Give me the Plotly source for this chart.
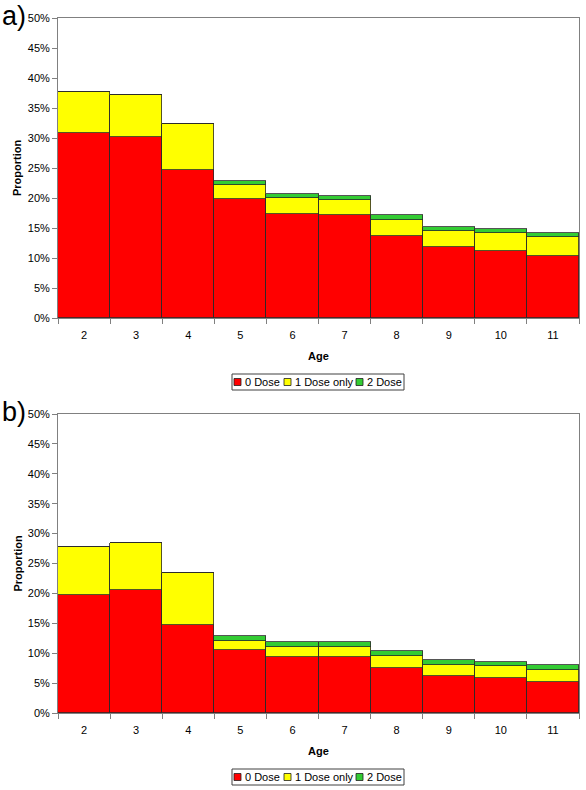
import plotly.graph_objects as go
from plotly.subplots import make_subplots

# ---------------- data ----------------
ages = ["2", "3", "4", "5", "6", "7", "8", "9", "10", "11"]
series_names = ["0 Dose", "1 Dose only", "2 Dose"]
series_colors = ["#FF0000", "#FFFF00", "#33CC33"]

# panel a) stacked segment proportions (%)
a_zero_dose = [30.8, 30.2, 24.7, 19.9, 17.3, 17.1, 13.6, 11.8, 11.1, 10.3]
a_one_dose = [6.9, 7.0, 7.6, 2.3, 2.65, 2.6, 2.8, 2.7, 3.1, 3.2]
a_two_dose = [0.0, 0.0, 0.0, 0.7, 0.65, 0.6, 0.7, 0.7, 0.7, 0.6]

# panel b) stacked segment proportions (%)
b_zero_dose = [19.7, 20.5, 14.7, 10.5, 9.4, 9.4, 7.6, 6.2, 5.85, 5.2]
b_one_dose = [8.1, 7.9, 8.7, 1.6, 1.7, 1.7, 1.9, 1.9, 1.95, 2.0]
b_two_dose = [0.0, 0.0, 0.0, 0.7, 0.8, 0.8, 0.8, 0.8, 0.8, 0.8]

y_ticks = [0, 5, 10, 15, 20, 25, 30, 35, 40, 45, 50]
y_tick_labels = [f"{v}%" for v in y_ticks]
panel_labels = ["a)", "b)"]

# ---------------- layout helpers ----------------
W, H = 586, 790
FONT = "Arial, Liberation Sans, sans-serif"
LINE = "#808080"


def px(x):
    return x / W


def py(y):
    return 1 - y / H


fig = make_subplots(rows=2, cols=1)

panels = [
    (a_zero_dose, a_one_dose, a_two_dose),
    (b_zero_dose, b_one_dose, b_two_dose),
]
for r, vals in enumerate(panels, start=1):
    for name, color, v in zip(series_names, series_colors, vals):
        fig.add_trace(
            go.Bar(
                x=ages, y=v, name=name,
                marker=dict(color=color, line=dict(color="#2a2a2a", width=0.8)),
                showlegend=False,
            ),
            row=r, col=1,
        )

# plot-area positions (pixels)
plot_left, plot_right = 58, 579
plot_rows = [(18, 318), (414, 713)]

axis_common_x = dict(
    type="category", range=[-0.5, 9.5], showgrid=False, zeroline=False,
    showline=True, linecolor=LINE, linewidth=1, mirror=True,
    ticks="outside", tickson="boundaries", ticklen=5, tickcolor=LINE,
    tickfont=dict(family=FONT, size=11, color="black"),
    ticklabelstandoff=7, automargin=False,
)
axis_common_y = dict(
    range=[0, 50], tickmode="array", tickvals=y_ticks, ticktext=y_tick_labels,
    showgrid=False, zeroline=False, showline=True, linecolor=LINE,
    linewidth=1, mirror=True, ticks="outside", ticklen=5, tickcolor=LINE,
    tickfont=dict(family=FONT, size=11, color="black"), automargin=False,
)

for i, (top, bottom) in enumerate(plot_rows, start=1):
    fig.update_xaxes(domain=[px(plot_left), px(plot_right)], row=i, col=1,
                     **axis_common_x)
    fig.update_yaxes(domain=[py(bottom), py(top)], row=i, col=1,
                     **axis_common_y)

annotations = []
shapes = []
for i, (top, bottom) in enumerate(plot_rows):
    cx = (plot_left + plot_right) / 2
    # panel label
    annotations.append(dict(
        text=panel_labels[i], x=px(0), y=py(top - 2), xref="paper", yref="paper",
        xanchor="left", yanchor="middle", showarrow=False,
        font=dict(family=FONT, size=27, color="black")))
    # y title
    annotations.append(dict(
        text="<b>Proportion</b>", x=px(17), y=py((top + bottom) / 2),
        xref="paper", yref="paper", xanchor="center", yanchor="middle",
        textangle=-90, showarrow=False,
        font=dict(family=FONT, size=11, color="black")))
    # x title
    annotations.append(dict(
        text="<b>Age</b>", x=px(cx), y=py(bottom + 38), xref="paper", yref="paper",
        xanchor="center", yanchor="middle", showarrow=False,
        font=dict(family=FONT, size=11, color="black")))

    # legend (drawn box with swatches)
    leg_cy = bottom + 64
    leg_left, leg_right = 232, 404
    shapes.append(dict(type="rect", xref="paper", yref="paper",
                       x0=px(leg_left), x1=px(leg_right),
                       y0=py(leg_cy + 8), y1=py(leg_cy - 8),
                       line=dict(color="#404040", width=1), fillcolor="white"))
    sw_x = [234, 284, 356]
    for sx, name, color in zip(sw_x, series_names, series_colors):
        shapes.append(dict(type="rect", xref="paper", yref="paper",
                           x0=px(sx), x1=px(sx + 7),
                           y0=py(leg_cy + 3.5), y1=py(leg_cy - 3.5),
                           line=dict(color="#202020", width=0.8),
                           fillcolor=color))
        annotations.append(dict(
            text=name, x=px(sx + 9), y=py(leg_cy), xref="paper", yref="paper",
            xanchor="left", yanchor="middle", showarrow=False,
            font=dict(family=FONT, size=11, color="black")))

fig.update_layout(
    width=W, height=H,
    margin=dict(l=0, r=0, t=0, b=0),
    paper_bgcolor="white", plot_bgcolor="white",
    barmode="stack", bargap=0,
    showlegend=False,
    annotations=annotations, shapes=shapes,
    font=dict(family=FONT, size=11, color="black"),
)

fig.write_html(
    "out.html",
    config={"displayModeBar": False},
    post_script="document.documentElement.style.margin='0';"
                "document.body.style.margin='0';"
                "document.body.style.overflow='hidden';",
)
